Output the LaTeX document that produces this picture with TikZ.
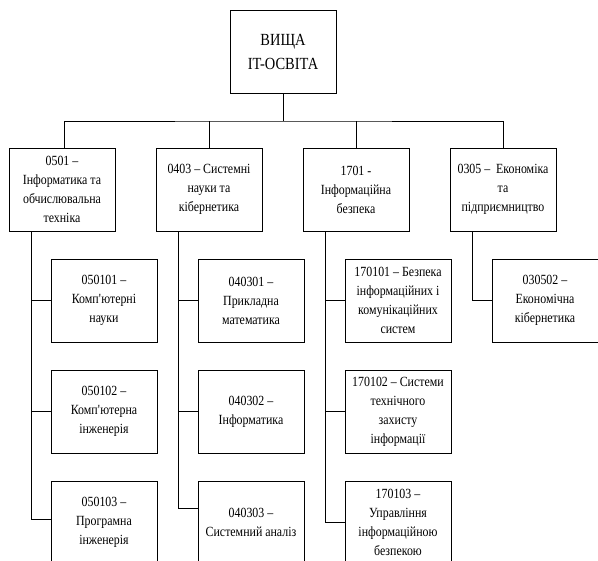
\documentclass[tikz,border=0pt]{standalone}
\usepackage{fontspec}
\setmainfont[FakeStretch=0.85]{Liberation Serif}
\begin{document}
\begin{tikzpicture}[x=1pt,y=-1pt,
  box/.style={draw,line width=0.9pt,minimum width=106pt,minimum height=83pt,inner sep=0pt,align=center,font=\fontsize{14}{19}\selectfont},
  topbox/.style={box,font=\fontsize{17}{24}\selectfont},
  link/.style={line width=0.9pt}]
\useasboundingbox (0,0) rectangle (598,561);
\clip (0,0) rectangle (598,561);
\node[topbox] (top) at (283,51.5) {ВИЩА\\IT-ОСВІТА};
\node[box] (l1a) at (62,189.5) {0501 –\\Інформатика та\\обчислювальна\\техніка};
\node[box] (l1b) at (209,189.5) {0403 – Системні\\науки та\\кібернетика};
\node[box] (l1c) at (356,189.5) {1701 -\\Інформаційна\\безпека};
\node[box] (l1d) at (503,189.5) {0305 –\ \ Економіка\\та\\підприємництво};
\node[box] (c1a) at (104,300.5) {050101 –\\Комп\textquotesingle ютерні\\науки};
\node[box] (c1b) at (104,411.5) {050102 –\\Комп\textquotesingle ютерна\\інженерія};
\node[box] (c1c) at (104,522.5) {050103 –\\Програмна\\інженерія};
\node[box] (c2a) at (251,300.5) {040301 –\\Прикладна\\математика};
\node[box] (c2b) at (251,411.5) {040302 –\\Інформатика};
\node[box] (c2c) at (251,522.5) {040303 –\\Системний аналіз};
\node[box] (c3a) at (398,300.5) {170101 – Безпека\\інформаційних і\\комунікаційних\\систем};
\node[box] (c3b) at (398,411.5) {170102 – Системи\\технічного\\захисту\\інформації};
\node[box] (c3c) at (398,522.5) {170103 –\\Управління\\інформаційною\\безпекою};
\node[box] (c4a) at (545,300.5) {030502 –\\Економічна\\кібернетика};
\coordinate (bus) at (283,121);
\draw[link] (top.south) -- (bus);
\draw[link] ([xshift=2pt]l1a.north) |- (bus) -| (l1d.north);
\draw[link] (l1b.north) -- (l1b.north |- bus);
\draw[link] (l1c.north) -- (l1c.north |- bus);
% trunks
\coordinate (t1) at ([xshift=-31pt]l1a.south);
\coordinate (t2) at ([xshift=-31pt]l1b.south);
\coordinate (t3) at ([xshift=-31pt]l1c.south);
\coordinate (t4) at ([xshift=-31pt]l1d.south);
\draw[link] (t1) |- (c1a.west);
\draw[link] (t1) |- (c1b.west);
\draw[link] (t1) |- ([yshift=3.5pt]c1c.west);
\draw[link] (t2) |- (c2a.west);
\draw[link] (t2) |- (c2b.west);
\draw[link] (t2) |- ([yshift=14.5pt]c2c.west);
\draw[link] (t3) |- (c3a.west);
\draw[link] (t3) |- (c3b.west);
\draw[link] (t3) |- (c3c.west);
\draw[link] (t4) |- (c4a.west);
\end{tikzpicture}
\end{document}
